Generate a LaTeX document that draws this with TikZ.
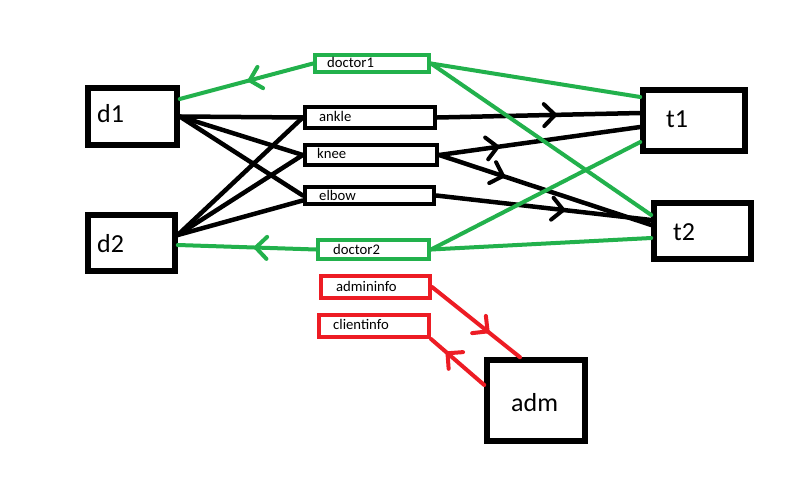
\documentclass[tikz,border=0pt]{standalone}
\usepackage{fontspec}
\setmainfont{Carlito}
\usetikzlibrary{arrows.meta,decorations.markings}
\definecolor{pgreen}{HTML}{22B14C}
\definecolor{pred}{HTML}{ED1C24}
\tikzset{
  bigbox/.style={draw=black,line width=5.5pt,inner sep=0pt,rectangle},
  smallbox/.style={draw=black,line width=4.5pt,inner sep=0pt,rectangle},
  gbox/.style={draw=pgreen,line width=4pt,inner sep=0pt,rectangle},
  rbox/.style={draw=pred,line width=4pt,inner sep=0pt,rectangle},
  bigtxt/.style={anchor=base west,inner sep=0pt,font=\fontsize{26}{30}\selectfont},
  smalltxt/.style={anchor=base west,inner sep=0pt,font=\fontsize{14.7}{17}\selectfont},
  conn/.style={line width=4.5pt,line cap=round},
  gconn/.style={draw=pgreen,line width=4pt,line cap=round},
  rconn/.style={draw=pred,line width=4pt,line cap=round},
  midarr/.style={postaction={decorate},decoration={markings,
     mark=at position #1 with {\arrow{Straight Barb[length=11pt,width=22pt,line width=4pt,line cap=round,line join=round]}}}},
}
\begin{document}
\begin{tikzpicture}[x=1pt,y=-1pt]
\useasboundingbox[fill=white] (0,0) rectangle (803,479);
% big boxes
\node[bigbox,minimum width=89,minimum height=57] (d1) at (132.5,116.5) {};
\node[bigbox,minimum width=87,minimum height=56] (d2) at (131.5,243) {};
\node[bigbox,minimum width=102,minimum height=61] (t1) at (694,120.5) {};
\node[bigbox,minimum width=97,minimum height=56] (t2) at (702.5,231) {};
\node[bigbox,minimum width=98,minimum height=81] (adm) at (536,400.5) {};
% small boxes
\node[gbox,minimum width=114,minimum height=17] (doc1) at (372,63.5) {};
\node[smallbox,minimum width=130,minimum height=21] (ankle) at (370,117.5) {};
\node[smallbox,minimum width=132,minimum height=20] (knee) at (371,155) {};
\node[smallbox,minimum width=129,minimum height=17] (elbow) at (369.5,195.5) {};
\node[gbox,minimum width=111,minimum height=19] (doc2) at (373.5,249.5) {};
\node[rbox,minimum width=109,minimum height=22] (admi) at (375.5,287) {};
\node[rbox,minimum width=110,minimum height=22] (clie) at (374,326) {};
% texts
\node[bigtxt] (d1t) at (97,122) {d1};
\node[bigtxt] (d2t) at (97,252) {d2};
\node[bigtxt] (t1t) at (666,127) {t1};
\node[bigtxt] (t2t) at (673,240) {t2};
\node[bigtxt] (admt) at (511,411) {adm};
\node[smalltxt] (doc1t) at (327,67) {doctor1};
\node[smalltxt] (anklet) at (319,121) {ankle};
\node[smalltxt] (kneet) at (317,158) {knee};
\node[smalltxt] (elbowt) at (319,200) {elbow};
\node[smalltxt] (doc2t) at (333,254) {doctor2};
\node[smalltxt] (admit) at (336,291) {admininfo};
\node[smalltxt] (cliet) at (333,329) {clientinfo};
% black connectors
\draw[conn] (d1.east) -- (ankle.west);
\draw[conn] (d1.east) -- (knee.west);
\draw[conn] (d1.east) -- (elbow.west);
\draw[conn] ([yshift=8pt]d2.east) -- (ankle.west);
\draw[conn] ([yshift=8pt]d2.east) -- (knee.west);
\draw[conn] ([yshift=8pt]d2.east) -- ([yshift=-5pt]elbow.west);
\draw[conn,midarr=0.59] (ankle.east) -- ([yshift=7.5pt]t1.west);
\draw[conn,midarr=0.3] (knee.east) -- ([yshift=-6.5pt]t1.west);
\draw[conn,midarr=0.31] (knee.east) -- ([yshift=6pt]t2.west);
\draw[conn,midarr=0.6] (elbow.east) -- ([yshift=11pt]t2.west);
% green connectors
\draw[gconn,midarr=0.49] (doc1.west) -- ([yshift=17.5pt]d1.east);
\draw[gconn] (doc1.east) -- ([yshift=23.5pt]t1.west);
\draw[gconn] (doc1.east) -- ([yshift=16pt]t2.west);
\draw[gconn,midarr=0.45] (doc2.west) -- ([yshift=-2pt]d2.east);
\draw[gconn] (doc2.east) -- ([yshift=-21.5pt]t1.west);
\draw[gconn] (doc2.east) -- ([yshift=-7pt]t2.west);
% red connectors
\draw[rconn,midarr=0.65] (admi.east) -- ([xshift=-16pt]adm.north);
\draw[rconn,midarr=0.72] ([yshift=15.5pt]adm.west) -- (clie.south east);
\end{tikzpicture}
\end{document}
